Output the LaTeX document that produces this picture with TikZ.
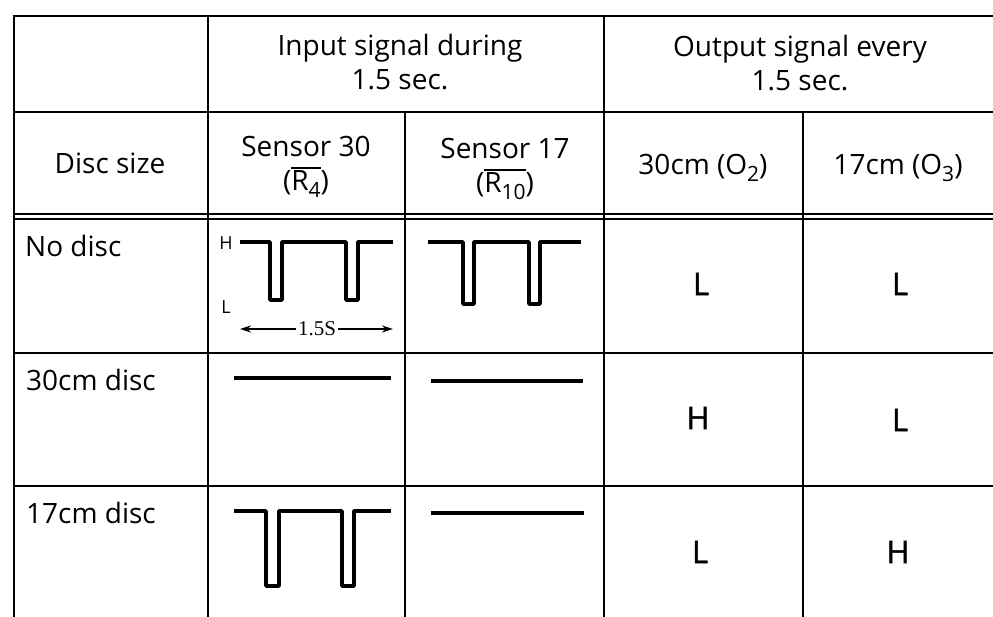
\documentclass[tikz,border=0pt]{standalone}
\usepackage{fontspec}
\setmainfont{Open Sans}
\newfontfamily\serifnum{Liberation Serif}
\newfontfamily\medfont[FakeBold=1.3]{Open Sans}
\usetikzlibrary{arrows.meta}
\newcommand\sbs[1]{\raisebox{-0.45ex}{\fontsize{21}{21}\selectfont #1}}
\newcommand\ovr[1]{\leavevmode\vbox{\hrule height 1.8pt\kern 2pt\hbox{#1}}}
\begin{document}
\begin{tikzpicture}[x=1pt,y=-1pt,
  grid/.style={line width=2.3pt,line cap=rect},
  wave/.style={line width=3.4pt,line join=round},
  hd/.style={font=\fontsize{28}{34}\selectfont,align=center,inner sep=0pt},
  rowlbl/.style={font=\fontsize{28}{34}\selectfont,anchor=west,inner sep=0pt},
  lvl/.style={font=\medfont\fontsize{31}{31}\selectfont,inner sep=0pt},
  small/.style={font=\fontsize{18}{18}\selectfont,inner sep=0pt},
  dim/.style={line width=1.6pt,{Stealth[length=11pt,width=7pt]}-{Stealth[length=11pt,width=7pt]}}]
\useasboundingbox (0,0) rectangle (993,617);
\fill[white] (0,0) rectangle (993,617);
% grid
\draw[grid] (14,16) -- (993,16);
\draw[grid] (14,112) -- (993,112);
\draw[grid] (14,214) -- (993,214);
\draw[grid] (14,219) -- (993,219);
\draw[grid] (14,353) -- (993,353);
\draw[grid] (14,486) -- (993,486);
\draw[grid] (14,16) -- (14,617);
\draw[grid] (208,16) -- (208,617);
\draw[grid] (405,112) -- (405,617);
\draw[grid] (604,16) -- (604,617);
\draw[grid] (803,112) -- (803,617);
% headers
\node[hd] (inp) at (400,62) {Input signal during\\1.5 sec.};
\node[hd] (outp) at (800,63) {Output signal every\\1.5 sec.};
\node[hd] (dsz) at (110,163) {Disc size};
\node[hd] (s30) at (306,167) {Sensor 30\\(\ovr{R\sbs{4}})};
\node[hd] (s17) at (505,169) {Sensor 17\\(\ovr{R\sbs{10}})};
\node[hd] (o2) at (703,168) {30cm (O\sbs{2})};
\node[hd] (o3) at (898,168) {17cm (O\sbs{3})};
% row labels
\node[rowlbl] (r1) at (25,246) {No disc};
\node[rowlbl] (r2) at (26,380) {30cm disc};
\node[rowlbl] (r3) at (26,513) {17cm disc};
% outputs
\node[lvl] (a1) at (701,284) {L};
\node[lvl] (b1) at (900,284) {L};
\node[lvl] (a2) at (698,418) {H};
\node[lvl] (b2) at (900,420) {L};
\node[lvl] (a3) at (700,552) {L};
\node[lvl] (b3) at (898,552) {H};
% waveforms, no disc
\node[small] (hl) at (226,243) {H};
\node[small] (ll) at (226,307) {L};
\draw[wave] (240,242) -- (270,242) -- (270,300) -- (282,300) -- (282,242) -- (346,242) -- (346,300) -- (358,300) -- (358,242) -- (393,242);
\draw[wave] (428,242) -- (463,242) -- (463,304) -- (474,304) -- (474,242) -- (529,242) -- (529,304) -- (540,304) -- (540,242) -- (581,242);
\coordinate (dl) at (240,329);
\coordinate (dr) at (393,329);
\draw[dim] (dl) -- (dr);
\node[font=\serifnum\fontsize{21}{21}\selectfont,fill=white,inner xsep=2pt,inner ysep=1pt] (dtx) at (317,329) {1.5S};
% 30cm disc
\draw[wave] (234,378) -- (391,378);
\draw[wave] (431,381) -- (583,381);
% 17cm disc
\draw[wave] (234,511) -- (266,511) -- (266,586) -- (279,586) -- (279,511) -- (342,511) -- (342,586) -- (354,586) -- (354,511) -- (391,511);
\draw[wave] (431,513) -- (584,513);
\end{tikzpicture}
\end{document}
